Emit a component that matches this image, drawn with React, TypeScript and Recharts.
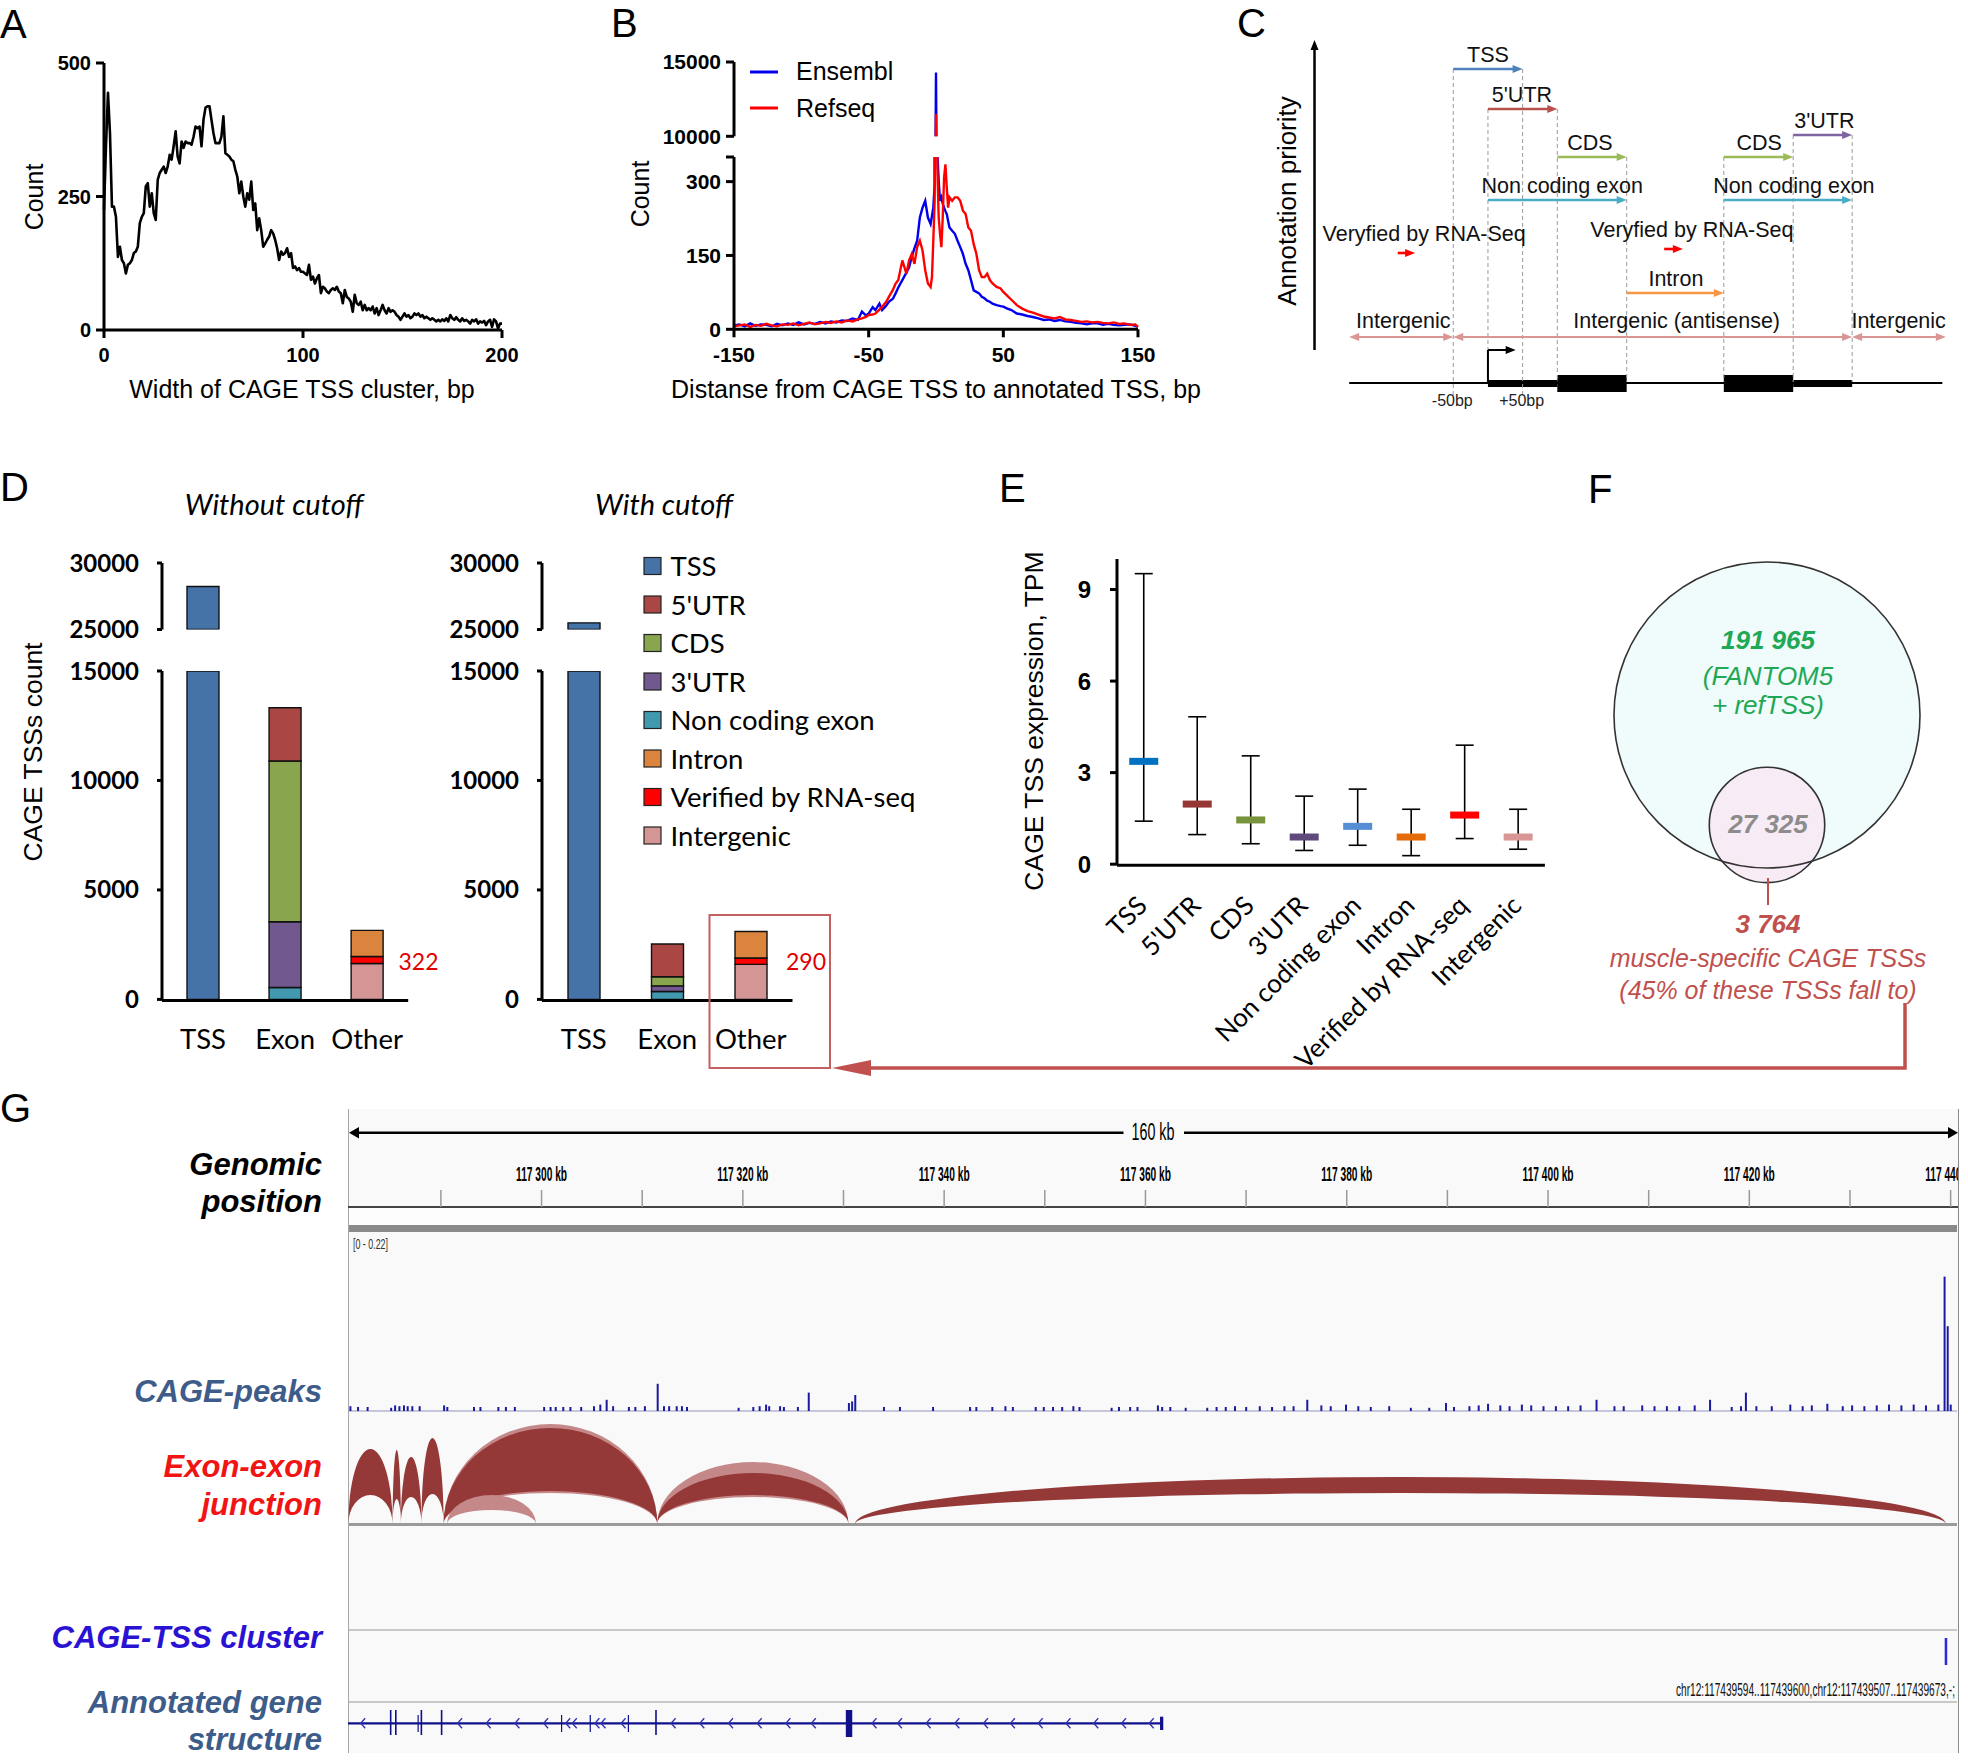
import React from "react";
import {
  LineChart,
  Line,
  BarChart,
  Bar,
  ComposedChart,
  ScatterChart,
  Scatter,
  XAxis,
  YAxis,
  ErrorBar,
  ReferenceLine,
  ReferenceArea,
} from "recharts";

const ARIAL = "'Liberation Sans', Arial, Helvetica, sans-serif";
const LATO = "Lato, 'Liberation Sans', sans-serif";

// ---------------- A: width of CAGE TSS clusters (bp 0..200) ----------------
const clusterCount = [
  225, 344, 444, 369, 231, 231, 212, 137, 156, 131,
  125, 106, 122, 125, 131, 144, 147, 156, 200, 212,
  219, 269, 275, 231, 256, 219, 206, 281, 294, 300,
  306, 294, 306, 328, 319, 344, 372, 325, 312, 353,
  341, 353, 350, 350, 347, 362, 381, 378, 381, 344,
  394, 416, 419, 419, 394, 369, 350, 350, 350, 362,
  400, 331, 328, 325, 319, 316, 300, 287, 256, 278,
  250, 231, 256, 244, 278, 225, 237, 187, 209, 187,
  156, 162, 169, 175, 187, 181, 169, 153, 131, 147,
  141, 144, 153, 137, 144, 116, 119, 112, 116, 109,
  109, 106, 103, 122, 94, 100, 87, 97, 103, 69,
  81, 78, 72, 69, 75, 78, 75, 81, 72, 69,
  50, 75, 62, 59, 53, 34, 66, 50, 47, 53,
  37, 47, 37, 41, 37, 44, 31, 41, 28, 37,
  47, 37, 31, 41, 34, 37, 34, 28, 25, 19,
  25, 31, 25, 28, 22, 25, 31, 28, 31, 25,
  28, 22, 25, 22, 19, 22, 19, 16, 19, 16,
  20, 17, 22, 16, 28, 22, 19, 24, 19, 16,
  22, 17, 19, 16, 12, 19, 16, 20, 12, 16,
  14, 17, 9, 16, 19, 6, 20, 16, 3, 12,
  12,
];

// ---------------- B: distance CAGE TSS -> annotated TSS ----------------
const tssOffset = [
  -150, -146, -142, -138, -134, -130, -126, -122, -118, -114, -110, -106, -102, -98, -94, -90, -86, -82, -78, -74, -70, -66, -62, -58,
  -55, -52, -50, -47, -45, -42, -40, -37, -35, -32, -30, -28, -25, -22, -20, -18, -16, -14, -12, -10, -8, -6, -4, -3, -2, -1,
  0, 1, 2, 3, 4, 5, 6, 7, 8, 9, 10,
  12, 14, 16, 18, 20, 22, 24, 26, 28, 30, 32, 34, 36, 38, 40, 42,
  45, 48, 50, 53, 56,
  60, 64, 68, 72, 76, 80, 84, 88, 92, 96, 100, 104, 108, 112, 116, 120, 124, 128, 132, 136, 140, 144, 148,
  150,
];
const ensemblCount = [
  8, 10, 6, 12, 7, 10, 9, 6, 11, 8, 12, 9, 14, 10, 13, 11, 15, 12, 16, 14, 18, 17, 22, 19,
  36, 28, 32, 45, 39, 52, 39, 48, 56, 62, 73, 85, 100, 115, 126, 147, 165, 180, 227, 247, 261, 227, 214, 230, 247, 294,
  14300, 360, 301, 261, 268, 255, 247, 240, 234, 220, 207,
  200, 194, 180, 167, 153, 133, 120, 100, 79, 76, 73, 66, 63, 58, 56, 52,
  49, 47, 46, 42, 39,
  32, 30, 27, 25, 22, 19, 20, 17, 19, 16, 15, 13, 12, 10, 12, 12, 9, 11, 9, 8, 9, 10, 7,
  5,
];
const refseqCount = [
  6, 8, 10, 5, 9, 7, 11, 8, 6, 10, 9, 12, 8, 11, 14, 10, 12, 15, 13, 16, 14, 18, 16, 20,
  22, 25, 29, 30, 32, 40, 46, 56, 66, 80, 93, 100, 140, 113, 140, 153, 133, 167, 180, 160, 120, 93, 86, 106, 180, 261,
  11500, 328, 227, 194, 167, 227, 308, 335, 288, 247, 268,
  261, 268, 268, 261, 241, 234, 207, 200, 173, 153, 120, 106, 106, 113, 100, 93,
  86, 83, 76, 68, 60,
  49, 42, 37, 34, 30, 26, 24, 22, 25, 20, 19, 17, 15, 16, 14, 15, 13, 12, 14, 11, 12, 9, 10,
  5,
];

// ---------------- C: annotation priority scheme (bp from TSS, priority rank) ----------------
const cFeature = ["TSS", "5'UTR", "3'UTR", "CDS", "CDS", "Non coding exon", "Non coding exon", "Veryfied by RNA-Seq", "Veryfied by RNA-Seq", "Intron", "Intergenic", "Intergenic (antisense)", "Intergenic"];
const cFrom = [-50, 0, 440, 100, 340, 0, 340, -130, 254, 200, -200, -50, 525];
const cTo = [50, 100, 525, 200, 440, 200, 525, -105, 281, 340, -50, 525, 660];
const cRank = [35.1, 31.1, 28.5, 26.3, 26.3, 22, 22, 16.7, 17.1, 12.7, 8.3, 8.3, 8.3];
const cLabelAt = [0, 49, 485, 147, 391, 107, 441, -92, 294, 271, -122, 272, 592];
const cGuideBp = [-50, 0, 50, 100, 200, 340, 440, 525];
const cGuideTop = [35.1, 31.1, 35.1, 31.1, 26.3, 26.3, 28.5, 28.5];
const cGuideBottom = [2.5, 3.7, 2.5, 3.7, 3.7, 3.7, 3.7, 3.7];
const cGuideLabel = ["-50bp", "", "+50bp", "", "", "", "", ""];
const cExonFrom = [100, 340];
const cExonTo = [200, 440];
const cUtrFrom = [0, 440];
const cUtrTo = [100, 525];

// ---------------- D: CAGE TSS counts by class ----------------
const dCategories = ["TSS", "Exon", "Other"];
const dClasses = ["TSS", "5'UTR", "CDS", "3'UTR", "Non coding exon", "Intron", "Verified by RNA-seq", "Intergenic"];
const tssNoCut = [28230, 0, 0];
const nceNoCut = [0, 540, 0];
const utr3NoCut = [0, 3006, 0];
const cdsNoCut = [0, 7344, 0];
const utr5NoCut = [0, 2430, 0];
const intergenicNoCut = [0, 0, 1640];
const verifiedNoCut = [0, 0, 322];
const intronNoCut = [0, 0, 1190];
const tssCut = [25500, 0, 0];
const nceCut = [0, 358, 0];
const utr3Cut = [0, 261, 0];
const cdsCut = [0, 413, 0];
const utr5Cut = [0, 1500, 0];
const intergenicCut = [0, 0, 1600];
const verifiedCut = [0, 0, 290];
const intronCut = [0, 0, 1210];

// ---------------- E: expression per class (median, whiskers) ----------------
const eCategories = ["TSS", "5'UTR", "CDS", "3'UTR", "Non coding exon", "Intron", "Verified by RNA-seq", "Intergenic"];
const eMedian = [3.37, 1.97, 1.45, 0.89, 1.24, 0.89, 1.61, 0.89];
const eUpper = [9.52, 4.83, 3.55, 2.23, 2.46, 1.8, 3.9, 1.8];
const eLower = [1.41, 0.97, 0.67, 0.45, 0.62, 0.28, 0.84, 0.49];

// ---------------- F: Venn ----------------
const vennCounts = [191965, 27325];
const muscleSpecific = 3764;

// ---------------- G: genome browser (kb offset from 117 280 kb) ----------------
const G_BASE = 117280;
const peakKb = [
  0.96, 1.72, 2.67, 5.01, 5.4, 5.83, 6.28, 6.65, 7.11, 7.84, 10.27, 10.59, 13.24, 13.88, 15.66, 16.41, 17.3, 20.21, 20.85, 21.36,
  22.11, 22.82, 23.89, 25.16, 25.79, 26.42, 27.06, 28.63, 29.27, 30.22, 31.49, 32.12, 32.63, 33.38, 33.9, 34.4, 39.53, 40.99, 41.62, 42.26,
  42.57, 43.65, 44.03, 45.42, 46.5, 50.49, 50.81, 51.12, 53.97, 55.56, 58.85, 62.53, 63.15, 64.74,
  66.04, 66.78, 69.05, 69.85, 70.77, 71.68, 72.79, 73.4, 76.59, 77.32, 78.43, 79.16, 81.19, 81.61, 82.42, 83.95, 86.09, 87.02, 87.93, 88.85,
  89.96, 91.31, 92.53, 93.76, 94.67, 96.03, 97.43, 98.36, 99.88, 101.1, 102.34, 104.17, 106.32, 108.15, 109.81, 110.61, 112.14, 113.06, 113.99, 115.21,
  116.13, 117.35, 118.28, 119.5, 120.73, 121.95, 123.18, 124.77, 126.55, 127.47, 129.31, 130.53, 131.76, 132.99, 134.52, 136.05, 138.2, 139.12, 139.61, 140.65,
  142.18, 144.02, 145.25, 146.16, 147.7, 149.23, 150.16, 151.38, 152.61, 153.83, 155.06, 156.28, 157.5, 158.73, 159.35, 159.66, 159.96,
];
const peakSignal = [
  0.006, 0.005, 0.005, 0.004, 0.007, 0.006, 0.007, 0.006, 0.006, 0.006, 0.007, 0.005, 0.005, 0.005, 0.005, 0.005, 0.005, 0.005, 0.005, 0.005,
  0.005, 0.005, 0.005, 0.006, 0.008, 0.014, 0.006, 0.005, 0.005, 0.006, 0.034, 0.006, 0.006, 0.006, 0.006, 0.005, 0.004, 0.005, 0.006, 0.008,
  0.006, 0.006, 0.005, 0.005, 0.023, 0.01, 0.012, 0.02, 0.005, 0.005, 0.005, 0.005, 0.005, 0.005,
  0.006, 0.005, 0.005, 0.005, 0.005, 0.005, 0.006, 0.005, 0.004, 0.005, 0.005, 0.005, 0.007, 0.005, 0.005, 0.004, 0.004, 0.005, 0.005, 0.006,
  0.005, 0.006, 0.005, 0.006, 0.006, 0.014, 0.007, 0.006, 0.008, 0.006, 0.005, 0.006, 0.004, 0.004, 0.01, 0.005, 0.006, 0.007, 0.009, 0.007,
  0.006, 0.008, 0.007, 0.006, 0.006, 0.006, 0.007, 0.014, 0.006, 0.006, 0.007, 0.006, 0.006, 0.006, 0.007, 0.014, 0.005, 0.006, 0.023, 0.006,
  0.006, 0.008, 0.006, 0.007, 0.009, 0.006, 0.007, 0.006, 0.007, 0.008, 0.007, 0.008, 0.007, 0.008, 0.168, 0.106, 0.008,
];
const junctionStart = [0.8, 5.2, 6.02, 8.06, 10.27, 10.27, 10.59, 31.49, 31.49, 51.12];
const junctionEnd = [5.2, 6.02, 8.06, 10.27, 31.49, 31.49, 19.46, 50.49, 50.49, 159.53];
const junctionOuter = [75, 74, 67, 86, 100, 96, 29, 62, 51, 47];
const junctionInner = [29, 25, 27, 30, 31, 33, 14, 27, 29, 31];
const junctionShade = ["dark", "dark", "dark", "dark", "light", "dark", "light", "light", "dark", "dark"];
const clusterKb = [159.41, 159.66];
const geneStartKb = 0.77;
const geneEndKb = 81.61;
const geneExonKb = [0.77, 5.01, 5.52, 7.74, 8.06, 10.07, 21.99, 24.84, 28.63, 31.37, 50.55, 81.61];
const geneExonType = ["cds", "cds", "cds", "utr", "cds", "cds", "utr", "utr", "utr", "cds", "big", "end"];
const chevronKb = [2.23, 11.85, 14.7, 17.55, 20.4, 22.6, 23.25, 25.5, 26.1, 28.1, 33.07, 35.92, 38.77, 41.62, 44.47, 47.0, 53.03, 55.56, 58.41, 61.26, 64.1, 66.78, 69.54, 72.3, 75.06, 77.82, 80.57];
const rulerTicks = [117290, 117300, 117310, 117320, 117330, 117340, 117350, 117360, 117370, 117380, 117390, 117400, 117410, 117420, 117430, 117440];
const G_DOMAIN: [number, number] = [117280.77, 117440.77];

// ---------------- styles ----------------
const classColor: Record<string, string> = {
  TSS: "#4572a7",
  "5'UTR": "#aa4643",
  CDS: "#89a54e",
  "3'UTR": "#71588f",
  "Non coding exon": "#4198af",
  Intron: "#db843d",
  "Verified by RNA-seq": "#ff0000",
  Intergenic: "#d49695",
};
const eColor = ["#0070c0", "#953735", "#77933c", "#604a7b", "#558ed5", "#e46c0a", "#ff0000", "#d99694"];
const cColor: Record<string, string> = {
  TSS: "#4f81bd",
  "5'UTR": "#b8504c",
  "3'UTR": "#8064a2",
  CDS: "#9bbb59",
  "Non coding exon": "#4bacc6",
  "Veryfied by RNA-Seq": "#ff0000",
  Intron: "#f79646",
  Intergenic: "#d99694",
  "Intergenic (antisense)": "#d99694",
};
const AX3 = { stroke: "#000", strokeWidth: 3 };
const boldTick = (size: number, font = ARIAL) => ({ fill: "#000", fontSize: size, fontWeight: 700, fontFamily: font });
const Blank = () => <g />;

function arrowHead(x1: number, y1: number, x2: number, y2: number, head: number, half: number) {
  const len = Math.hypot(x2 - x1, y2 - y1) || 1;
  const ux = (x2 - x1) / len;
  const uy = (y2 - y1) / len;
  const bx = x2 - ux * head;
  const by = y2 - uy * head;
  return `M${x2},${y2} L${bx - uy * half},${by + ux * half} L${bx + uy * half},${by - ux * half} Z`;
}

function arrowShape(color: string, width: number, both: boolean, label?: string, labelFrac?: number, lift = 7, fs = 21.5) {
  return (p: any) => {
    const { x1, y1, x2, y2 } = p;
    const head = 10;
    const len = Math.hypot(x2 - x1, y2 - y1) || 1;
    const ux = (x2 - x1) / len;
    const uy = (y2 - y1) / len;
    const sx = both ? x1 + ux * head * 0.7 : x1;
    const sy = both ? y1 + uy * head * 0.7 : y1;
    const lx = x1 + (x2 - x1) * (labelFrac ?? 0.5);
    return (
      <g>
        <line x1={sx} y1={sy} x2={x2 - ux * head * 0.7} y2={y2 - uy * head * 0.7} stroke={color} strokeWidth={width} />
        <path d={arrowHead(x1, y1, x2, y2, head, 4)} fill={color} />
        {both && <path d={arrowHead(x2, y2, x1, y1, head, 4)} fill={color} />}
        {label && (
          <text x={lx} y={y1 - lift} textAnchor="middle" fontSize={fs} fontFamily={ARIAL} fill="#111">
            {label}
          </text>
        )}
      </g>
    );
  };
}

// ---------------- panels ----------------
function PanelA() {
  const data = clusterCount.map((n, w) => ({ w, n }));
  return (
    <div style={{ position: "absolute", left: 0, top: 0 }}>
      <LineChart width={522} height={380} data={data} margin={{ top: 63, right: 20, left: 0, bottom: 0 }}>
        <XAxis dataKey="w" type="number" domain={[0, 200]} ticks={[0, 100, 200]} interval={0} height={50} axisLine={AX3} tickLine={AX3} tickSize={8} tickMargin={10} tick={boldTick(20)} />
        <YAxis type="number" domain={[0, 500]} ticks={[0, 250, 500]} interval={0} width={104} axisLine={AX3} tickLine={AX3} tickSize={8} tickMargin={5} tick={boldTick(20)} />
        <Line dataKey="n" type="linear" stroke="#000" strokeWidth={2.6} dot={false} isAnimationActive={false} strokeLinejoin="round" />
      </LineChart>
    </div>
  );
}

function PanelB() {
  const data = tssOffset.map((d, i) => ({ d, e: ensemblCount[i], r: refseqCount[i] }));
  const lines = (
    <>
      <Line dataKey="e" type="linear" stroke="#0000ee" strokeWidth={2.4} dot={false} isAnimationActive={false} />
      <Line dataKey="r" type="linear" stroke="#ff0000" strokeWidth={2.4} dot={false} isAnimationActive={false} />
    </>
  );
  return (
    <>
      <div style={{ position: "absolute", left: 624, top: 41.7 }}>
        <LineChart width={534} height={114.3} data={data} margin={{ top: 20, right: 20, left: 0, bottom: 20 }}>
          <XAxis dataKey="d" type="number" domain={[-150, 150]} hide />
          <YAxis type="number" domain={[10000, 15000]} ticks={[10000, 15000]} interval={0} allowDataOverflow width={110} axisLine={AX3} tickLine={AX3} tickSize={8} tickMargin={5} tick={boldTick(21)} />
          {lines}
        </LineChart>
      </div>
      <div style={{ position: "absolute", left: 624, top: 137 }}>
        <LineChart width={534} height={242.3} data={data} margin={{ top: 20, right: 20, left: 0, bottom: 0 }}>
          <XAxis dataKey="d" type="number" domain={[-150, 150]} ticks={[-150, -50, 50, 150]} interval={0} height={50} axisLine={AX3} tickLine={AX3} tickSize={8} tickMargin={10} tick={boldTick(21)} />
          <YAxis type="number" domain={[0, 350]} ticks={[0, 150, 300, 350]} interval={0} allowDataOverflow tickFormatter={(v: number) => (v === 350 ? "" : String(v))} width={110} axisLine={AX3} tickLine={AX3} tickSize={8} tickMargin={5} tick={boldTick(21)} />
          {lines}
        </LineChart>
      </div>
    </>
  );
}

function PanelC() {
  const black = "#000";
  const anchors = cFeature.map((_, i) => ({ x: cFrom[i], y: cRank[i] }));
  return (
    <div style={{ position: "absolute", left: 1250, top: 0 }}>
      <ComposedChart width={718} height={420} margin={{ top: 0, right: 0, left: 0, bottom: 0 }}>
        <XAxis type="number" dataKey="x" domain={[-343, 692]} allowDataOverflow hide />
        <YAxis type="number" dataKey="y" domain={[0, 42]} allowDataOverflow hide />
        <Scatter data={anchors} dataKey="y" shape={Blank} isAnimationActive={false} />
        {cGuideBp.map((bp, i) => (
          <ReferenceLine
            key={"g" + i}
            segment={[{ x: bp, y: cGuideTop[i] }, { x: bp, y: cGuideBottom[i] }]}
            shape={(p: any) => (
              <g>
                <line x1={p.x1} y1={p.y1} x2={p.x2} y2={p.y2} stroke="#9a9a9a" strokeWidth={1} strokeDasharray="4 3" />
                {cGuideLabel[i] && (
                  <text x={p.x2 - 1} y={p.y2 + 11} textAnchor="middle" fontSize={16} fontFamily={ARIAL} fill="#222">
                    {cGuideLabel[i]}
                  </text>
                )}
              </g>
            )}
          />
        ))}
        <ReferenceLine segment={[{ x: -200, y: 3.7 }, { x: 655, y: 3.7 }]} stroke={black} strokeWidth={2} />
        {cUtrFrom.map((f, i) => (
          <ReferenceArea key={"u" + i} x1={f} x2={cUtrTo[i]} y1={3.3} y2={4.0} fill={black} fillOpacity={1} stroke="none" />
        ))}
        {cExonFrom.map((f, i) => (
          <ReferenceArea key={"e" + i} x1={f} x2={cExonTo[i]} y1={2.8} y2={4.5} fill={black} fillOpacity={1} stroke="none" />
        ))}
        <ReferenceLine segment={[{ x: 0, y: 3.7 }, { x: 0, y: 7 }]} stroke={black} strokeWidth={2} />
        <ReferenceLine segment={[{ x: 0, y: 7 }, { x: 40, y: 7 }]} shape={arrowShape(black, 2, false)} />
        <ReferenceLine segment={[{ x: -250, y: 7 }, { x: -250, y: 38 }]} shape={arrowShape(black, 2.5, false)} />
        {cFeature.map((name, i) => {
          const both = name.startsWith("Intergenic");
          const lift = name.startsWith("Veryfied") ? 12 : both ? 9 : 7;
          const frac = (cLabelAt[i] - cFrom[i]) / (cTo[i] - cFrom[i]);
          return (
            <ReferenceLine
              key={"a" + i}
              segment={[{ x: cFrom[i], y: cRank[i] }, { x: cTo[i], y: cRank[i] }]}
              shape={arrowShape(cColor[name], both ? 2 : 2.6, both, name, frac, lift)}
            />
          );
        })}
      </ComposedChart>
    </div>
  );
}

function dRows(tss: number[], nce: number[], utr3: number[], cds: number[], utr5: number[], intergenic: number[], verified: number[], intron: number[]) {
  return dCategories.map((cat, i) => ({
    cat,
    tss: tss[i],
    tssTop: tss[i] > 25000 ? [25000, tss[i]] : null,
    nce: nce[i],
    utr3: utr3[i],
    cds: cds[i],
    utr5: utr5[i],
    intergenic: intergenic[i],
    verified: verified[i],
    intron: intron[i],
  }));
}
const dStack: [string, string][] = [
  ["tss", "TSS"],
  ["nce", "Non coding exon"],
  ["utr3", "3'UTR"],
  ["cds", "CDS"],
  ["utr5", "5'UTR"],
  ["intergenic", "Intergenic"],
  ["verified", "Verified by RNA-seq"],
  ["intron", "Intron"],
];

const dCatTick = (p: any) => (
  <text x={p.x} y={p.y + 50} textAnchor="middle" fontFamily={LATO} fontSize={27.5} fill="#000">
    {p.payload.value}
  </text>
);

function DChart({ left, right, rows }: { left: number; right: number; rows: any[] }) {
  const w = 160 + (right - left) + 12;
  const yTick = boldTick(24, LATO);
  return (
    <>
      <div style={{ position: "absolute", left: left - 160, top: 542.5 }}>
        <BarChart width={w} height={106.5} data={rows} margin={{ top: 20, right: 12, left: 0, bottom: 20 }}>
          <XAxis dataKey="cat" type="category" hide />
          <YAxis type="number" domain={[25000, 30000]} ticks={[25000, 30000]} interval={0} allowDataOverflow width={160} axisLine={AX3} tickLine={AX3} tickSize={5} tickMargin={18} tick={yTick} />
          <Bar dataKey="tssTop" barSize={32} fill={classColor.TSS} stroke="#111" strokeWidth={1.4} isAnimationActive={false} />
        </BarChart>
      </div>
      <div style={{ position: "absolute", left: left - 160, top: 650.8 }}>
        <BarChart width={w} height={418.4} data={rows} margin={{ top: 20, right: 12, left: 0, bottom: 68 }}>
          <XAxis xAxisId="cat" dataKey="cat" type="category" height={1} axisLine={false} tickLine={false} tickSize={0} tickMargin={0} interval={0} tick={dCatTick} />
          <XAxis xAxisId="edge" type="number" domain={[0, 3]} ticks={[0, 1, 2, 3]} interval={0} height={1} tick={false} axisLine={AX3} tickLine={AX3} tickSize={9} />
          <YAxis type="number" domain={[0, 15000]} ticks={[0, 5000, 10000, 15000]} interval={0} allowDataOverflow width={160} axisLine={AX3} tickLine={AX3} tickSize={5} tickMargin={18} tick={yTick} />
          {dStack.map(([key, name]) => (
            <Bar key={key} xAxisId="cat" dataKey={key} stackId="s" barSize={32} fill={classColor[name]} stroke="#111" strokeWidth={1.4} isAnimationActive={false} />
          ))}
        </BarChart>
      </div>
    </>
  );
}

function PanelD() {
  const noCut = dRows(tssNoCut, nceNoCut, utr3NoCut, cdsNoCut, utr5NoCut, intergenicNoCut, verifiedNoCut, intronNoCut);
  const cut = dRows(tssCut, nceCut, utr3Cut, cdsCut, utr5Cut, intergenicCut, verifiedCut, intronCut);
  return (
    <>
      <DChart left={161.5} right={407.7} rows={noCut} />
      <DChart left={542} right={792.5} rows={cut} />
    </>
  );
}

const eCatTick = (p: any) => (
  <text transform={`translate(${p.x + 5},${p.y + 43}) rotate(-45)`} textAnchor="end" fontFamily={LATO} fontSize={26} fill="#000">
    {p.payload.value}
  </text>
);

function PanelE() {
  const data = eCategories.map((cat, i) => ({
    cat,
    median: eMedian[i],
    err: [eMedian[i] - eLower[i], eUpper[i] - eMedian[i]],
    color: eColor[i],
  }));
  const half = 427.9 / 16;
  return (
    <div style={{ position: "absolute", left: 1016.6, top: 538.9 }}>
      <ComposedChart width={547.9} height={567.2} data={data} margin={{ top: 20, right: 20, left: 0, bottom: 240 }}>
        <XAxis xAxisId="cat" dataKey="cat" type="category" padding={{ left: half, right: half }} height={1} axisLine={false} tickLine={false} tickSize={0} tickMargin={0} interval={0} tick={eCatTick} />
        <XAxis xAxisId="edge" type="number" domain={[0, 8]} ticks={[0, 1, 2, 3, 4, 5, 6, 7, 8]} interval={0} height={1} tick={false} axisLine={AX3} tickLine={AX3} tickSize={8} />
        <YAxis type="number" domain={[0, 10]} ticks={[0, 3, 6, 9]} interval={0} width={100} axisLine={AX3} tickLine={AX3} tickSize={7} tickMargin={19} tick={boldTick(24)} />
        <Scatter
          xAxisId="cat"
          dataKey="median"
          isAnimationActive={false}
          shape={(p: any) => <rect x={p.cx - 14.5} y={p.cy - 3.5} width={29} height={7} fill={p.payload.color} />}
        >
          <ErrorBar dataKey="err" direction="y" width={9} stroke="#000" strokeWidth={1.6} isAnimationActive={false} />
        </Scatter>
      </ComposedChart>
    </div>
  );
}

function PanelF() {
  const centreY = [0.028, -0.583];
  const fills = ["#f0fbfb", "#f7ebf5"];
  const data = vennCounts.map((count, i) => ({ x: 0, y: centreY[i], count, fill: fills[i] }));
  const radius = (count: number) => 153 * Math.sqrt(count / vennCounts[0]);
  return (
    <div style={{ position: "absolute", left: 1587, top: 540 }}>
      <ScatterChart width={360} height={360} margin={{ top: 0, right: 0, left: 0, bottom: 0 }}>
        <XAxis type="number" dataKey="x" domain={[-1, 1]} hide />
        <YAxis type="number" dataKey="y" domain={[-1, 1]} hide />
        <Scatter
          data={data}
          isAnimationActive={false}
          shape={(p: any) => <circle cx={p.cx} cy={p.cy} r={radius(p.payload.count)} fill={p.payload.fill} stroke="none" />}
        />
        <Scatter
          data={data}
          isAnimationActive={false}
          shape={(p: any) => <circle cx={p.cx} cy={p.cy} r={radius(p.payload.count)} fill="none" stroke="#333" strokeWidth={1.6} />}
        />
      </ScatterChart>
    </div>
  );
}

const rulerTick = (p: any) => {
  const v = Math.round(p.payload.value);
  if (v % 20 !== 0) return <g />;
  return (
    <text x={p.x} y={p.y} textAnchor="middle" fontSize={20} fontWeight={600} fontFamily={ARIAL} fill="#000" textLength={51} lengthAdjust="spacingAndGlyphs">
      {`117 ${v - 117000} kb`}
    </text>
  );
};

function crescent(fill: string, innerFrac: number) {
  return (p: any) => {
    const { x, y, width, height } = p;
    const base = y + height;
    const rx = width / 2;
    const ryIn = height * innerFrac;
    const d = `M${x},${base} A${rx},${height} 0 0 1 ${x + width},${base} A${rx},${ryIn} 0 0 0 ${x},${base} Z`;
    return <path d={d} fill={fill} />;
  };
}

function PanelG() {
  const W = 1610.4;
  const L = 347.6;
  const peaks = peakKb.map((k, i) => ({ pos: G_BASE + k, v: peakSignal[i] }));
  const chevrons = chevronKb.map((k) => ({ pos: G_BASE + k, y: 28.7 }));
  const junctionAnchors = junctionStart.map((s, i) => ({ pos: G_BASE + s, y: junctionOuter[i] }));
  const tickAnchors = rulerTicks.map((t) => ({ pos: t, y: 0.5 }));
  const clusterAnchors = clusterKb.map((k) => ({ pos: G_BASE + k, y: 40 }));
  const exonSpan: Record<string, [number, number, number]> = {
    cds: [0.08, 17, 42],
    utr: [0.06, 20, 37],
    big: [0.32, 15, 42],
    end: [0.16, 22, 35.3],
  };
  const navy = "#10108c";
  return (
    <>
      <div style={{ position: "absolute", left: L, top: 1156.7 }}>
        <ComposedChart width={W} height={70} margin={{ top: 10, right: 0, left: 0, bottom: 20 }}>
          <XAxis orientation="top" type="number" dataKey="pos" domain={G_DOMAIN} allowDataOverflow ticks={rulerTicks} interval={0} height={40} axisLine={{ stroke: "#444", strokeWidth: 2 }} tickLine={{ stroke: "#999", strokeWidth: 1.5 }} tickSize={17} tickMargin={9} tick={rulerTick} />
          <YAxis type="number" dataKey="y" domain={[0, 1]} hide />
          <Scatter data={tickAnchors} dataKey="y" shape={Blank} isAnimationActive={false} />
        </ComposedChart>
      </div>
      <div style={{ position: "absolute", left: L, top: 1235 }}>
        <BarChart width={W} height={178} data={peaks} margin={{ top: 0, right: 0, left: 0, bottom: 2 }}>
          <XAxis dataKey="pos" type="number" domain={G_DOMAIN} hide />
          <YAxis type="number" domain={[0, 0.22]} hide />
          <Bar dataKey="v" barSize={2} fill="#1a1a9e" isAnimationActive={false} />
        </BarChart>
      </div>
      <div style={{ position: "absolute", left: L, top: 1413 }}>
        <ComposedChart width={W} height={111} margin={{ top: 0, right: 0, left: 0, bottom: 0 }}>
          <XAxis type="number" dataKey="pos" domain={G_DOMAIN} allowDataOverflow hide />
          <YAxis type="number" dataKey="y" domain={[0, 111]} allowDataOverflow hide />
          <Scatter data={junctionAnchors} dataKey="y" shape={Blank} isAnimationActive={false} />
          {junctionStart.map((s, i) => (
            <ReferenceArea
              key={"j" + i}
              x1={G_BASE + s}
              x2={G_BASE + junctionEnd[i]}
              y1={0}
              y2={junctionOuter[i]}
              shape={crescent(junctionShade[i] === "dark" ? "#943838" : "#c58888", junctionInner[i] / junctionOuter[i])}
            />
          ))}
        </ComposedChart>
      </div>
      <div style={{ position: "absolute", left: L, top: 1632 }}>
        <ComposedChart width={W} height={68} margin={{ top: 0, right: 0, left: 0, bottom: 0 }}>
          <XAxis type="number" dataKey="pos" domain={G_DOMAIN} allowDataOverflow hide />
          <YAxis type="number" dataKey="y" domain={[0, 68]} allowDataOverflow hide />
          <Scatter data={clusterAnchors} dataKey="y" shape={Blank} isAnimationActive={false} />
          <ReferenceArea x1={G_BASE + clusterKb[0]} x2={G_BASE + clusterKb[1]} y1={35} y2={62} fill="#2a2ad8" fillOpacity={1} stroke="none" />
        </ComposedChart>
      </div>
      <div style={{ position: "absolute", left: L, top: 1702 }}>
        <ComposedChart width={W} height={50} margin={{ top: 0, right: 0, left: 0, bottom: 0 }}>
          <XAxis type="number" dataKey="pos" domain={G_DOMAIN} hide />
          <YAxis type="number" dataKey="y" domain={[0, 50]} hide />
          <ReferenceLine segment={[{ x: G_BASE + geneStartKb, y: 28.7 }, { x: G_BASE + geneEndKb, y: 28.7 }]} stroke={navy} strokeWidth={2.2} />
          {geneExonKb.map((k, i) => {
            const [half, y1, y2] = exonSpan[geneExonType[i]];
            return <ReferenceArea key={"x" + i} x1={G_BASE + k - half} x2={G_BASE + k + half} y1={y1} y2={y2} fill={navy} fillOpacity={1} stroke="none" />;
          })}
          <Scatter
            data={chevrons}
            dataKey="y"
            isAnimationActive={false}
            shape={(p: any) => (
              <polyline points={`${p.cx + 2.5},${p.cy - 5} ${p.cx - 2},${p.cy} ${p.cx + 2.5},${p.cy + 5}`} fill="none" stroke="#3030b0" strokeWidth={1.3} />
            )}
          />
        </ComposedChart>
      </div>
    </>
  );
}

function IgvBackground() {
  return (
    <>
      <div style={{ position: "absolute", left: 347.6, top: 1109, width: 1611, height: 644, background: "#f9f9f9", borderLeft: "1.5px solid #a8a8a8", borderRight: "1.5px solid #8a8a8a", boxSizing: "border-box" }} />
      <div style={{ position: "absolute", left: 349, top: 1208, width: 1608, height: 17, background: "#fdfdfd" }} />
      <div style={{ position: "absolute", left: 349, top: 1225, width: 1608, height: 6.5, background: "#8a8a8a" }} />
      <div style={{ position: "absolute", left: 349, top: 1410, width: 1608, height: 2, background: "#c6c6da" }} />
      <div style={{ position: "absolute", left: 349, top: 1523, width: 1608, height: 2.5, background: "#9a9a9a" }} />
      <div style={{ position: "absolute", left: 349, top: 1629, width: 1608, height: 2, background: "#c8c8c8" }} />
      <div style={{ position: "absolute", left: 349, top: 1700.7, width: 1608, height: 2, background: "#c8c8c8" }} />
    </>
  );
}

type TP = {
  x: number;
  y: number;
  s: number;
  children: React.ReactNode;
  a?: "start" | "middle" | "end";
  w?: number | string;
  i?: boolean;
  c?: string;
  f?: string;
  r?: number;
  len?: number;
};
function Txt({ x, y, s, children, a = "start", w = "normal", i = false, c = "#000", f = ARIAL, r, len }: TP) {
  return (
    <text
      x={x}
      y={y}
      fontSize={s}
      textAnchor={a}
      fontWeight={w}
      fontStyle={i ? "italic" : "normal"}
      fill={c}
      fontFamily={f}
      transform={r ? `rotate(${r} ${x} ${y})` : undefined}
      textLength={len}
      lengthAdjust={len ? "spacingAndGlyphs" : undefined}
    >
      {children}
    </text>
  );
}

function Overlay() {
  const red = "#c0504d";
  const green = "#1fa855";
  const trackBlue = "#3e5c8a";
  return (
    <svg width={1968} height={1760} style={{ position: "absolute", left: 0, top: 0, pointerEvents: "none" }}>
      {/* panel letters */}
      <Txt x={0} y={38} s={40}>A</Txt>
      <Txt x={611} y={37} s={40}>B</Txt>
      <Txt x={1237} y={37} s={40}>C</Txt>
      <Txt x={0} y={501} s={40}>D</Txt>
      <Txt x={999} y={502} s={40}>E</Txt>
      <Txt x={1588} y={503} s={40}>F</Txt>
      <Txt x={0} y={1122} s={40}>G</Txt>

      {/* A */}
      <Txt x={43} y={197} s={25} a="middle" r={-90}>Count</Txt>
      <Txt x={302} y={398} s={25} a="middle">Width of CAGE TSS cluster, bp</Txt>

      {/* B */}
      <Txt x={649} y={194} s={25} a="middle" r={-90}>Count</Txt>
      <Txt x={936} y={398} s={25} a="middle">Distanse from CAGE TSS to annotated TSS, bp</Txt>
      <line x1={750} y1={72} x2={778} y2={72} stroke="#0000ee" strokeWidth={3} />
      <Txt x={796} y={80} s={25}>Ensembl</Txt>
      <line x1={750} y1={108} x2={778} y2={108} stroke="#ff0000" strokeWidth={3} />
      <Txt x={796} y={117} s={25}>Refseq</Txt>

      {/* C */}
      <Txt x={1296} y={201} s={26} a="middle" r={-90}>Annotation priority</Txt>

      {/* D */}
      <Txt x={274} y={515} s={29} a="middle" i f={LATO}>Without cutoff</Txt>
      <Txt x={664} y={515} s={29} a="middle" i f={LATO}>With cutoff</Txt>
      <Txt x={42} y={752} s={26.5} a="middle" r={-90}>CAGE TSSs count</Txt>
      {dClasses.map((name, i) => (
        <g key={name}>
          <rect x={644} y={557.5 + i * 38.5} width={17} height={17} fill={classColor[name]} stroke="#222" strokeWidth={1.2} />
          <Txt x={670.5} y={576 + i * 38.5} s={27.5} f={LATO}>{name}</Txt>
        </g>
      ))}
      <Txt x={398.5} y={970} s={23} c="#e00000" f={LATO}>{String(verifiedNoCut[2])}</Txt>
      <Txt x={786} y={970} s={23} c="#e00000" f={LATO}>{String(verifiedCut[2])}</Txt>
      <rect x={709.5} y={915} width={120.5} height={153} fill="none" stroke="#c46060" strokeWidth={2} />

      {/* E */}
      <Txt x={1043} y={721} s={26.5} a="middle" r={-90}>CAGE TSS expression,  TPM</Txt>

      {/* F */}
      <Txt x={1768} y={649} s={26} a="middle" w={700} i c={green}>191 965</Txt>
      <Txt x={1768} y={685} s={26} a="middle" i c={green}>(FANTOM5</Txt>
      <Txt x={1768} y={713.5} s={26} a="middle" i c={green}>+ refTSS)</Txt>
      <Txt x={1768} y={833} s={26} a="middle" w={700} i c="#8c8c8c">27 325</Txt>
      <line x1={1768} y1={878} x2={1768} y2={905} stroke={red} strokeWidth={2} />
      <Txt x={1768} y={933} s={26} a="middle" w={700} i c={red}>{muscleSpecific.toLocaleString("en-US").replace(",", " ")}</Txt>
      <Txt x={1768} y={967} s={25} a="middle" i c={red}>muscle-specific  CAGE TSSs</Txt>
      <Txt x={1768} y={999} s={25} a="middle" i c={red}>(45% of these TSSs fall to)</Txt>
      <path d="M1905,1003 V1068 H866" fill="none" stroke={red} strokeWidth={3.5} />
      <path d="M832,1068 L871,1060 L871,1076 Z" fill={red} />

      {/* G labels */}
      <Txt x={322} y={1175} s={31} a="end" w={700} i>Genomic</Txt>
      <Txt x={322} y={1212} s={31} a="end" w={700} i>position</Txt>
      <Txt x={322} y={1402} s={31} a="end" w={700} i c={trackBlue}>CAGE-peaks</Txt>
      <Txt x={322} y={1477} s={31} a="end" w={700} i c="#f01414">Exon-exon</Txt>
      <Txt x={322} y={1515} s={31} a="end" w={700} i c="#f01414">junction</Txt>
      <Txt x={322} y={1648} s={31} a="end" w={700} i c="#2a12d4">CAGE-TSS cluster</Txt>
      <Txt x={322} y={1713} s={31} a="end" w={700} i c={trackBlue}>Annotated gene</Txt>
      <Txt x={322} y={1750} s={31} a="end" w={700} i c={trackBlue}>structure</Txt>
      <Txt x={353} y={1249} s={14} c="#333" len={35}>[0 - 0.22]</Txt>
      <line x1={357} y1={1132.7} x2={1123.5} y2={1132.7} stroke="#000" strokeWidth={2.5} />
      <line x1={1184} y1={1132.7} x2={1950} y2={1132.7} stroke="#000" strokeWidth={2.5} />
      <path d="M349,1132.7 L359,1127 L359,1138.4 Z" fill="#000" />
      <path d="M1958,1132.7 L1948,1127 L1948,1138.4 Z" fill="#000" />
      <Txt x={1153} y={1140} s={23} a="middle" len={43}>160 kb</Txt>
      <Txt x={1955} y={1696} s={18} a="end" c="#111" len={279}>chr12:117439594..117439600,chr12:117439507..117439673,-;</Txt>
    </svg>
  );
}

export default function App() {
  return (
    <div style={{ position: "relative", width: 1968, height: 1760, background: "#fff", overflow: "hidden", fontFamily: ARIAL }}>
      <style>{"body{margin:0;background:#fff}"}</style>
      <IgvBackground />
      <PanelA />
      <PanelB />
      <PanelC />
      <PanelD />
      <PanelE />
      <PanelF />
      <PanelG />
      <Overlay />
    </div>
  );
}
